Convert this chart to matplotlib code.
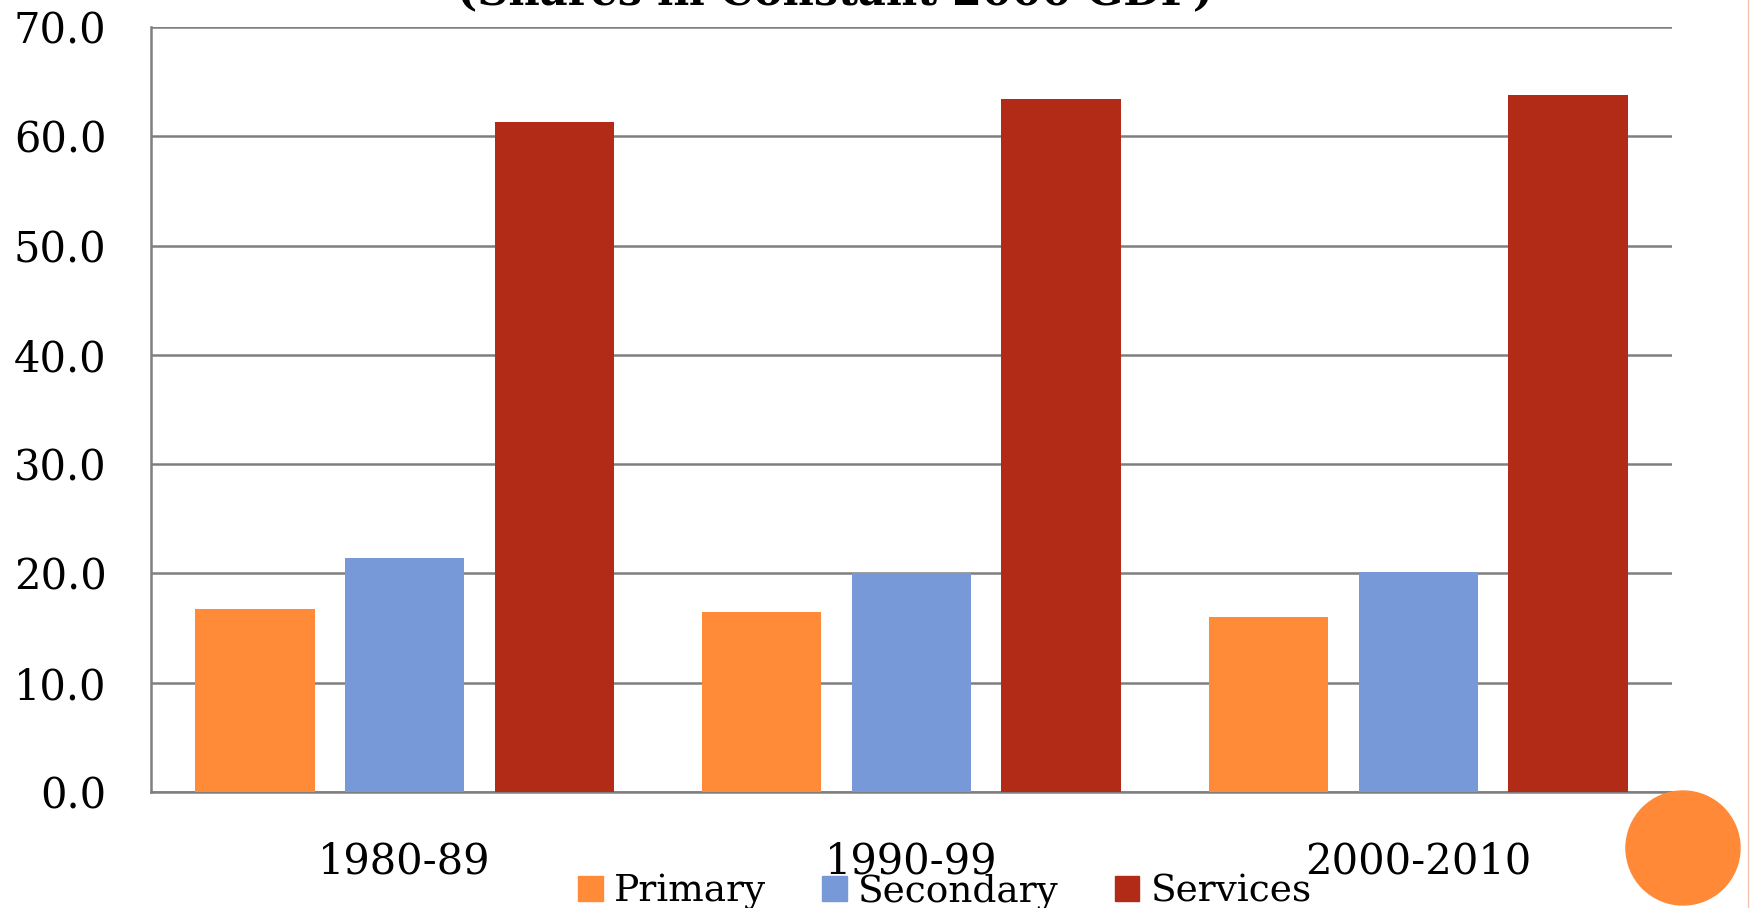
import matplotlib
matplotlib.use('Agg')
import matplotlib.pyplot as plt
from matplotlib.patches import Circle
from matplotlib.lines import Line2D
import numpy as np

# Sector shares of GDP by decade (constant 2000 prices)
periods = ['1980-89', '1990-99', '2000-2010']
sectors = ['Primary', 'Secondary', 'Services']
primary = [16.7, 16.5, 16.0]
secondary = [21.4, 20.0, 20.1]
services = [61.3, 63.4, 63.8]
yticks = [0, 10, 20, 30, 40, 50, 60, 70]

COLORS = ['#FF8A38', '#7799D8', '#B22B17']
GRID = '#7F7F7F'
FONT = 'DejaVu Serif'

plt.rcParams['font.family'] = FONT

fig = plt.figure(figsize=(17.5, 9.08), dpi=100)
ax = fig.add_axes([0.0863, 0.1278, 0.9554 - 0.0863, 0.9703 - 0.1278])

x = np.arange(len(periods))
width = 0.235
offsets = [-0.295, 0.0, 0.295]
for vals, off, col, name in zip([primary, secondary, services], offsets, COLORS, sectors):
    ax.bar(x + off, vals, width, color=col, label=name, zorder=3)

ax.set_xlim(-0.5, 2.5)
ax.set_ylim(0, 70)
ax.set_yticks(yticks)
ax.set_yticklabels([f'{v:.1f}' for v in yticks], fontsize=30)
ax.set_xticks(x)
ax.set_xticklabels(periods, fontsize=30)
ax.tick_params(axis='y', length=0, pad=32)
ax.tick_params(axis='x', length=0, pad=35)

ax.yaxis.grid(True, color=GRID, linewidth=1.8, zorder=0)
ax.set_axisbelow(True)
for side in ['top', 'right']:
    ax.spines[side].set_visible(False)
for side in ['left', 'bottom']:
    ax.spines[side].set_color(GRID)
    ax.spines[side].set_linewidth(1.8)

# cut-off title line at top of the slide
fig.text(0.477, 0.9956, '(Shares in Constant 2000 GDP)', ha='center', va='baseline',
         fontsize=31, fontweight='bold')

handles = [plt.Rectangle((0, 0), 1, 1, color=c) for c in COLORS]
fig.legend(handles, sectors, loc='center', bbox_to_anchor=(0.54, 1 - 892 / 908),
           ncol=3, frameon=False, fontsize=27, handlelength=0.65, handleheight=0.65,
           handletextpad=0.3, columnspacing=1.5, borderpad=0)

# slide decoration
fig.add_artist(Circle((16.83, 0.60), 0.57, transform=fig.dpi_scale_trans,
                      color='#FF8936', zorder=5))
fig.add_artist(Line2D([0.9986, 0.9986], [0, 1], color='#F5C2AE', linewidth=1,
                      transform=fig.transFigure))

fig.savefig('out.png', dpi=100)
